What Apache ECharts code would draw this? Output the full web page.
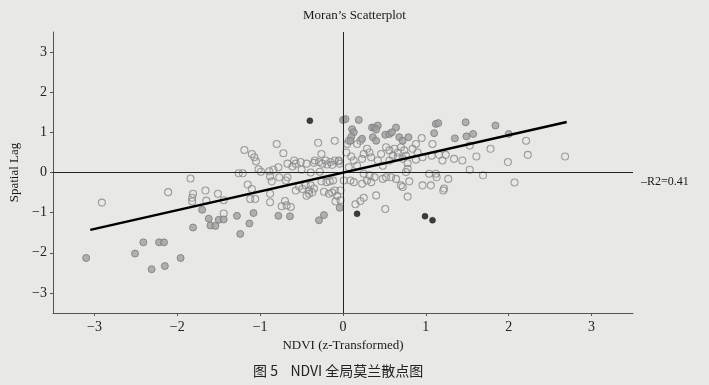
<!DOCTYPE html>
<html>
<head>
<meta charset="utf-8">
<script src="https://cdn.jsdelivr.net/npm/echarts@6/dist/echarts.min.js"></script>
<style>
html,body{margin:0;padding:0;background:#e8e8e6;}
#c{width:709px;height:385px;}
</style>
</head>
<body>
<div id="c"></div>
<script>
// ---- data ----
const titleText = "Moran\u2019s Scatterplot";
const xName = "NDVI (z-Transformed)";
const yName = "Spatial Lag";
const caption = "图 5    NDVI 全局莫兰散点图";
const r2Text = "\u2013R2=0.41";
const tickValues = [-3, -2, -1, 0, 1, 2, 3];

// not significant (open circles)
const openPts = [
 [-2.91,-0.75],[-2.11,-0.49],[-1.84,-0.15],[-1.81,-0.53],[-1.82,-0.63],[-1.82,-0.72],
 [-1.66,-0.45],[-1.65,-0.70],[-1.51,-0.53],[-1.44,-0.69],[-1.44,-1.02],[-1.19,0.56],
 [-1.10,0.46],[-1.07,0.38],[-1.05,0.28],[-1.26,-0.02],[-1.21,-0.02],[-1.02,0.08],
 [-0.99,0.02],[-0.89,0.03],[-0.84,0.07],[-0.78,0.13],[-1.15,-0.30],[-1.10,-0.41],
 [-1.12,-0.66],[-1.06,-0.66],[-0.88,-0.53],[-0.88,-0.74],[-0.80,0.71],[-0.72,0.48],
 [-0.30,0.74],[-0.10,0.79],[-0.26,0.46],[-0.67,0.22],[-0.61,0.15],[-0.59,0.30],
 [-0.57,0.22],[-0.51,0.26],[-0.50,0.07],[-0.44,0.22],[-0.35,0.24],[-0.34,0.30],
 [-0.29,0.26],[-0.25,0.22],[-0.21,0.30],[-0.19,0.20],[-0.15,0.26],[-0.13,0.19],
 [-0.10,0.30],[-0.05,0.28],[-0.39,0.00],[-0.28,0.02],[-0.88,-0.10],[-0.86,-0.22],
 [-0.77,-0.12],[-0.69,-0.20],[-0.67,-0.12],[-0.57,-0.45],[-0.53,-0.35],[-0.49,-0.41],
 [-0.45,-0.32],[-0.41,-0.45],[-0.39,-0.32],[-0.35,-0.40],[-0.44,-0.58],[-0.41,-0.53],
 [-0.37,-0.50],[-0.26,-0.22],[-0.20,-0.24],[-0.16,-0.22],[-0.12,-0.20],[-0.23,-0.48],
 [-0.17,-0.53],[-0.13,-0.50],[-0.10,-0.45],[-0.07,-0.58],[-0.09,-0.72],[-0.70,-0.71],
 [-0.74,-0.84],[-0.68,-0.82],[-0.63,-0.86],[0.05,0.71],[0.07,0.79],[0.17,0.71],
 [0.21,0.79],[0.95,0.86],[0.88,0.71],[0.84,0.59],[1.08,0.71],[0.32,0.50],[0.34,0.38],
 [0.25,0.46],[0.29,0.59],[0.52,0.63],[0.56,0.55],[0.62,0.59],[0.66,0.50],[0.70,0.63],
 [0.74,0.55],[0.60,0.42],[0.66,0.38],[0.72,0.34],[0.76,0.42],[0.42,0.30],[0.48,0.17],
 [0.13,0.30],[0.07,0.13],[0.17,0.17],[0.23,0.34],[0.78,0.23],[0.88,0.32],[0.96,0.38],
 [0.78,0.09],[0.76,0.01],[-0.05,0.30],[-0.04,0.22],[0.25,-0.03],[0.32,-0.07],
 [0.38,-0.12],[0.48,-0.16],[0.52,-0.12],[0.58,-0.12],[0.64,-0.16],[0.01,-0.20],
 [0.09,-0.20],[0.13,-0.24],[0.23,-0.28],[0.29,-0.20],[0.34,-0.24],[0.72,-0.36],
 [0.80,-0.22],[0.96,-0.32],[1.04,-0.03],[0.40,-0.57],[0.78,-0.60],[0.25,-0.63],
 [0.21,-0.71],[0.15,-0.79],[0.51,-0.91],[-0.03,-0.45],[-0.03,-0.69],[2.21,0.79],
 [1.53,0.67],[1.78,0.59],[1.07,0.42],[1.16,0.44],[1.24,0.44],[1.61,0.40],[2.23,0.44],
 [2.68,0.40],[1.44,0.30],[1.99,0.26],[1.53,0.07],[1.12,-0.03],[1.13,-0.12],[1.69,-0.07],
 [1.27,-0.16],[1.06,-0.32],[1.21,-0.45],[2.07,-0.25],[1.34,0.34],[1.20,0.30],
 [0.70,-0.32],[1.22,-0.40],[0.46,0.46],[0.56,0.30],[0.90,0.50],[0.04,0.50],[0.10,0.40]
];

// significant clusters (HH / LL, grey filled)
const clusterPts = [
 [-3.10,-2.13],[-2.51,-2.02],[-2.41,-1.74],[-2.22,-1.74],[-2.16,-1.74],[-2.31,-2.41],
 [-2.15,-2.33],[-1.96,-2.13],[-1.81,-1.37],[-1.70,-0.93],[-1.62,-1.15],[-1.60,-1.32],
 [-1.54,-1.33],[-1.50,-1.18],[-1.44,-1.17],[-1.28,-1.08],[-1.24,-1.53],[-1.13,-1.27],
 [-1.08,-1.01],[-0.78,-1.08],[-0.64,-1.09],[-0.29,-1.19],[-0.23,-1.06],[-0.04,-0.88],
 [0.00,1.31],[0.03,1.33],[0.19,1.31],[0.35,1.12],[0.38,1.12],[0.42,1.17],[0.40,1.07],
 [0.64,1.12],[0.11,1.08],[0.13,1.00],[0.10,0.89],[0.09,0.79],[0.51,0.94],[0.56,0.96],
 [0.59,1.00],[0.68,0.88],[0.72,0.79],[0.79,0.88],[0.36,0.88],[0.40,0.79],[1.12,1.21],
 [1.10,0.98],[1.15,1.23],[1.48,1.25],[1.84,1.17],[1.35,0.85],[1.49,0.90],[1.57,0.96],
 [2.00,0.96],[0.23,0.84]
];

// significant outliers (HL / LH, black)
const outlierPts = [[-0.40,1.29],[0.17,-1.03],[0.99,-1.09],[1.08,-1.19]];

// regression line end points
const fitX = [-3.05, 2.70];
const fitY = [-1.43, 1.26];

// ---- chart ----
const serif = "Liberation Serif, Times New Roman, serif";
const fitData = fitX.map((x, i) => [x, fitY[i]]);
const minusFmt = v => String(v).replace('-', '\u2212');

const chart = echarts.init(document.getElementById('c'));
chart.setOption({
  backgroundColor: '#e8e8e6',
  animation: false,
  title: {
    text: titleText, left: 'center', top: 4,
    textStyle: {fontFamily: serif, fontSize: 13, fontWeight: 'normal', color: '#1a1a1a'}
  },
  grid: {left: 46, right: 76, top: 32, bottom: 72},
  xAxis: {
    type: 'value', min: -3.5, max: 3.5,
    name: xName, nameLocation: 'middle', nameGap: 25,
    nameTextStyle: {fontFamily: serif, fontSize: 13, color: '#1a1a1a'},
    axisLine: {show: true, onZero: false, lineStyle: {color: '#555', width: 1}},
    axisTick: {show: true, length: 3, customValues: tickValues, lineStyle: {color: '#555'}},
    axisLabel: {customValues: tickValues, formatter: minusFmt, fontFamily: serif, fontSize: 14, color: '#222', margin: 7},
    splitLine: {show: false}
  },
  yAxis: {
    type: 'value', min: -3.5, max: 3.5,
    name: yName, nameLocation: 'middle', nameGap: 32,
    nameTextStyle: {fontFamily: serif, fontSize: 13, color: '#1a1a1a'},
    axisLine: {show: true, onZero: false, lineStyle: {color: '#555', width: 1}},
    axisTick: {show: true, length: 3, customValues: tickValues, lineStyle: {color: '#555'}},
    axisLabel: {customValues: tickValues, formatter: minusFmt, fontFamily: serif, fontSize: 14, color: '#222', margin: 6},
    splitLine: {show: false}
  },
  series: [
    {
      type: 'scatter', data: openPts, symbolSize: 7,
      itemStyle: {color: 'rgba(0,0,0,0)', borderColor: '#8a8a8a', borderWidth: 1.1},
      markLine: {
        silent: true, symbol: 'none', label: {show: false},
        lineStyle: {color: '#222', width: 1, type: 'solid'},
        data: [{xAxis: 0}, {yAxis: 0}]
      },
      z: 3
    },
    {
      type: 'scatter', data: clusterPts, symbolSize: 7,
      itemStyle: {color: '#a0a0a0', borderColor: '#7a7a7a', borderWidth: 1},
      z: 3
    },
    {
      type: 'scatter', data: outlierPts, symbolSize: 6,
      itemStyle: {color: '#111', borderColor: '#111', borderWidth: 0.5},
      z: 4
    },
    {
      type: 'line', data: fitData, symbol: 'none',
      lineStyle: {color: '#000', width: 2.5}, z: 5
    }
  ],
  graphic: [
    {type: 'text', left: 641, top: 176,
     style: {text: r2Text, fontFamily: serif, fontSize: 12, fill: '#1a1a1a'}},
    {type: 'text', left: 253, top: 364,
     style: {text: caption, fontFamily: "'Noto Sans CJK SC', serif", fontSize: 14, fill: '#222'}}
  ]
});
</script>
</body>
</html>
